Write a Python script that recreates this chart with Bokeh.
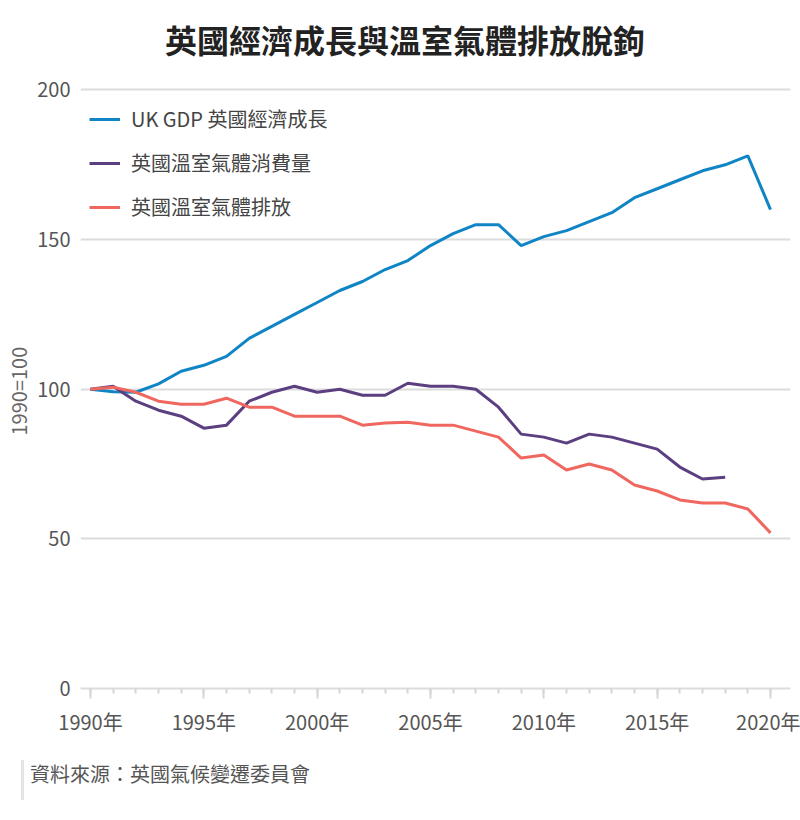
from bokeh.plotting import figure
from bokeh.models import (Legend, LegendItem, FixedTicker, Range1d, Title, Div)
from bokeh.layouts import column
from bokeh.embed import file_html
from bokeh.resources import INLINE

# ---- data ----
years = list(range(1990, 2021))
gdp = [100, 99.2, 99, 101.8, 106, 108, 111, 117, 121, 125, 129, 133, 136, 140,
       143, 148, 152, 155, 155, 148, 151, 153, 156, 159, 164, 167, 170, 173,
       175, 178, 160]
years_cons = list(range(1990, 2019))
consumption = [100, 101, 96, 93, 91, 87, 88, 96, 99, 101, 99, 100, 98, 98,
               102, 101, 101, 100, 94, 85, 84, 82, 85, 84, 82, 80, 74, 70,
               70.6]
emissions = [100, 100.7, 99, 96, 95, 95, 97, 94, 94, 91, 91, 91, 88, 88.7, 89,
             88, 88, 86, 84, 77, 78, 73, 75, 73, 68, 66, 63, 62, 62, 60, 52]

series_names = ["UK GDP 英國經濟成長", "英國溫室氣體消費量", "英國溫室氣體排放"]
series_colors = ["#1085c5", "#5b3f80", "#ef675f"]

x_ticks = [1990, 1995, 2000, 2005, 2010, 2015, 2020]
x_tick_labels = ["1990年", "1995年", "2000年", "2005年", "2010年", "2015年", "2020年"]
y_ticks = [0, 50, 100, 150, 200]

title_text = "英國經濟成長與溫室氣體排放脫鉤"
y_label_text = "1990=100"
source_text = "資料來源：英國氣候變遷委員會"

FONT = "Noto Sans CJK TC"

title = Div(text=title_text, width=800, height=40,
            styles={"margin-top": "19px", "text-align": "center",
                    "font-family": FONT, "font-size": "32px",
                    "font-weight": "bold", "line-height": "40px",
                    "color": "#222222"})

p = figure(width=800, height=688, output_backend="svg", toolbar_location=None,
           x_range=Range1d(1989.559, 2020.882), y_range=Range1d(0, 203.17),
           min_border_left=80, min_border_right=10, min_border_top=16,
           min_border_bottom=64)
p.outline_line_color = None
p.background_fill_color = "white"
p.border_fill_color = "white"

r_gdp = p.line(years, gdp, line_color=series_colors[0], line_width=3)
r_cons = p.line(years_cons, consumption, line_color=series_colors[1], line_width=3)
r_emis = p.line(years, emissions, line_color=series_colors[2], line_width=3)

# grid
p.xgrid.visible = False
p.ygrid.ticker = FixedTicker(ticks=y_ticks)
p.ygrid.grid_line_color = "#dcdcdc"
p.ygrid.grid_line_width = 2

# y axis
ya = p.yaxis[0]
ya.ticker = FixedTicker(ticks=y_ticks)
ya.axis_line_color = None
ya.major_tick_line_color = None
ya.minor_tick_line_color = None
ya.major_tick_in = 0
ya.major_tick_out = 0
ya.minor_tick_in = 0
ya.minor_tick_out = 0
ya.major_label_standoff = 10
ya.major_label_text_font = FONT
ya.major_label_text_font_size = "20px"
ya.major_label_text_color = "#555555"

# x axis
xa = p.xaxis[0]
xa.ticker = FixedTicker(ticks=x_ticks, minor_ticks=years)
xa.major_label_overrides = {t: l for t, l in zip(x_ticks, x_tick_labels)}
xa.axis_line_color = "#dcdcdc"
xa.axis_line_width = 2
xa.major_tick_line_color = "#d6d6d6"
xa.major_tick_line_width = 2
xa.major_tick_in = 0
xa.major_tick_out = 10
xa.minor_tick_line_color = "#d6d6d6"
xa.minor_tick_line_width = 2
xa.minor_tick_in = 0
xa.minor_tick_out = 5
xa.major_label_standoff = 8
xa.major_label_text_font = FONT
xa.major_label_text_font_size = "20px"
xa.major_label_text_color = "#555555"

# legend
legend = Legend(items=[LegendItem(label=series_names[0], renderers=[r_gdp]),
                       LegendItem(label=series_names[1], renderers=[r_cons]),
                       LegendItem(label=series_names[2], renderers=[r_emis])],
                location=(9, 467), orientation="vertical",
                glyph_width=31, glyph_height=20, label_height=20,
                label_standoff=11, spacing=15, padding=0, margin=0,
                border_line_alpha=0, background_fill_alpha=0,
                label_text_font=FONT, label_text_font_size="20px",
                label_text_color="#444444")
p.add_layout(legend, "center")

# y axis label
p.add_layout(Title(text=y_label_text, align="left", offset=253, standoff=3,
                   text_font=FONT, text_font_size="20px",
                   text_font_style="normal", text_color="#666666"), "left")

source = Div(text=source_text, width=400,
             styles={"margin-left": "21px", "margin-top": "8px",
                     "border-left": "3px solid #e4e4e4",
                     "padding": "0px 0px 13px 6px",
                     "font-family": FONT, "font-size": "20px",
                     "line-height": "27px", "color": "#555555"})

layout = column(title, p, source)
open("out.html", "w").write(file_html(layout, INLINE))
